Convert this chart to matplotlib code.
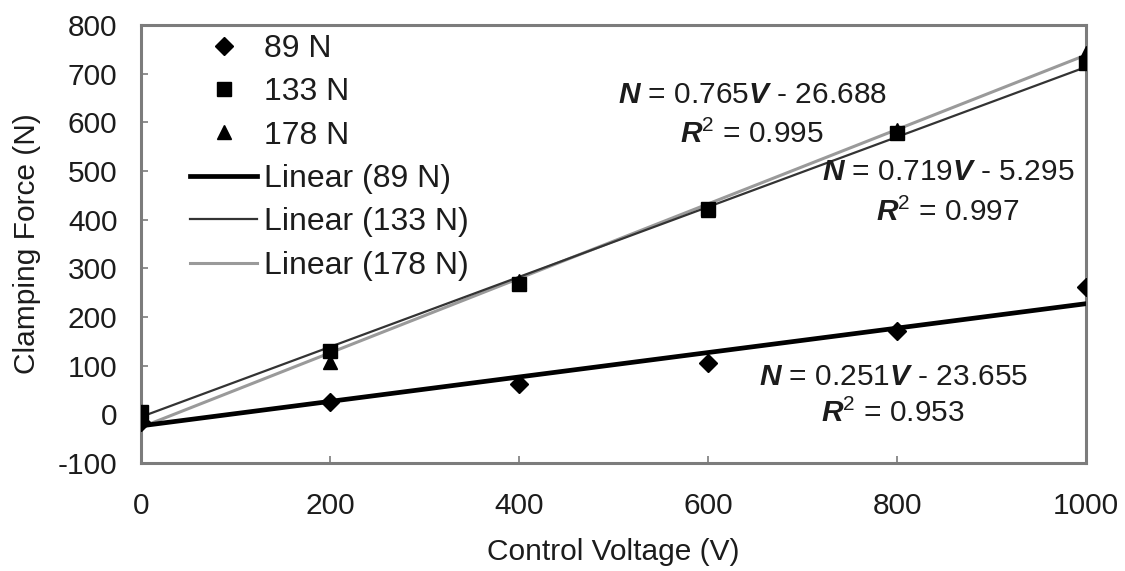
import matplotlib
matplotlib.use("Agg")
import matplotlib.pyplot as plt
import numpy as np

plt.rcParams['font.family'] = ['Liberation Sans', 'DejaVu Sans']
plt.rcParams['axes.unicode_minus'] = False
plt.rcParams['mathtext.fontset'] = 'custom'
plt.rcParams['mathtext.rm'] = 'Liberation Sans'
plt.rcParams['mathtext.it'] = 'Liberation Sans:italic'
plt.rcParams['mathtext.bf'] = 'Liberation Sans:bold'
plt.rcParams['mathtext.bfit'] = 'Liberation Sans:bold:italic'

# Control voltage (V)
voltage = [0, 200, 400, 600, 800, 1000]

# Measured clamping force (N) for each nominal load
force_89 = [-15, 25, 62, 105, 172, 262]
force_133 = [5, 130, 268, 422, 578, 722]
force_178 = [5, 108, 275, 420, 585, 742]

# Linear fits: slope, intercept, R^2
fit_89 = (0.251, -23.655, 0.953)
fit_133 = (0.719, -5.295, 0.997)
fit_178 = (0.765, -26.688, 0.995)

x_ticks = [0, 200, 400, 600, 800, 1000]
y_ticks = [-100, 0, 100, 200, 300, 400, 500, 600, 700, 800]

TEXT = '#1c1c1c'
SPINE = '#7c7c7c'
FS = 21.5
FS_LEG = 23

fig = plt.figure(figsize=(11.25, 5.71), dpi=100)
ax = fig.add_axes([141 / 1125, 1 - 463 / 571, (1086 - 141) / 1125, (463 - 25) / 571])

ax.plot(voltage, force_89, linestyle='none', marker='D', color='black', markersize=9, label='89 N', zorder=5)
ax.plot(voltage, force_133, linestyle='none', marker='s', color='black', markersize=10, label='133 N', zorder=5)
ax.plot(voltage, force_178, linestyle='none', marker='^', color='black', markersize=10, label='178 N', zorder=5)

xs = np.array([0, 1000])
ax.plot(xs, fit_89[0] * xs + fit_89[1], color='black', lw=3.4, label='Linear (89 N)', zorder=3)
ax.plot(xs, fit_133[0] * xs + fit_133[1], color='#333333', lw=1.6, label='Linear (133 N)', zorder=3)
ax.plot(xs, fit_178[0] * xs + fit_178[1], color='#9a9a9a', lw=2.2, label='Linear (178 N)', zorder=2)


def eq_text(fit):
    return (r'$\mathbfit{N}$ = ' + f'{fit[0]:.3f}' + r'$\mathbfit{V}$ - ' + f'{-fit[1]:.3f}',
            r'$\mathbfit{R}^{2}$ = ' + f'{fit[2]:.3f}')


def px_to_data(px, py):
    return ((px - 141) / 945 * 1000, 800 - (py - 25) / 438 * 900)


for fit, (cx, y1, y2) in [(fit_178, (752, 95, 134)), (fit_133, (948, 172, 212)), (fit_89, (893, 377, 413))]:
    l1, l2 = eq_text(fit)
    ax.text(*px_to_data(cx, y1), l1, ha='center', va='center', fontsize=FS, color=TEXT)
    ax.text(*px_to_data(cx, y2), l2, ha='center', va='center', fontsize=FS, color=TEXT)

ax.set_xlim(0, 1000)
ax.set_ylim(-100, 800)
ax.set_xticks(x_ticks)
ax.set_yticks(y_ticks)
ax.tick_params(direction='in', length=5, width=1.2, color=SPINE, labelsize=FS, labelcolor=TEXT)
ax.tick_params(axis='x', pad=21)
ax.tick_params(axis='y', pad=17)
for s in ax.spines.values():
    s.set_color(SPINE)
    s.set_linewidth(2.2)

ax.set_xlabel('Control Voltage (V)', fontsize=FS, color=TEXT, labelpad=13)
ax.set_ylabel('Clamping Force (N)', fontsize=FS, color=TEXT, labelpad=12)

leg = ax.legend(loc='upper left', bbox_to_anchor=(0.052, 0.98), frameon=False, fontsize=FS_LEG,
                borderpad=0, borderaxespad=0, handlelength=2.1, handletextpad=0.2,
                labelspacing=0.42)
for t in leg.get_texts():
    t.set_color(TEXT)

fig.savefig('out.png', dpi=100)
